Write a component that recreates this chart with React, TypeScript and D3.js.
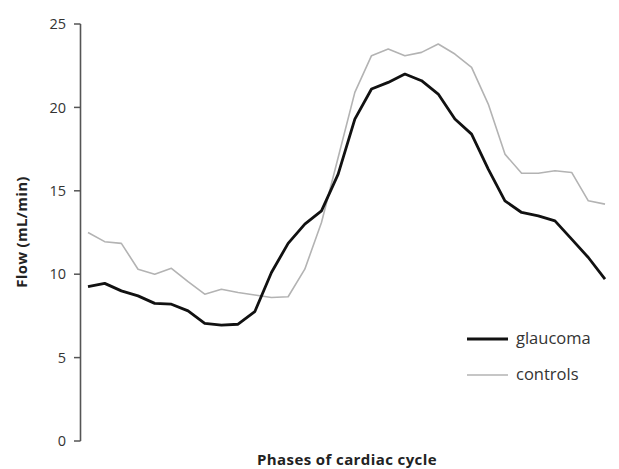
import React from "react";
import * as d3 from "d3";

const yTicks = [0, 5, 10, 15, 20, 25];
const glaucoma = [9.25, 9.45, 9.0, 8.7, 8.25, 8.2, 7.8, 7.05, 6.95, 7.0, 7.75, 10.1, 11.85, 13.0, 13.8, 16.0, 19.3, 21.1, 21.5, 22.0, 21.6, 20.8, 19.3, 18.4, 16.3, 14.4, 13.7, 13.5, 13.2, 12.1, 11.0, 9.7];
const controls = [12.5, 11.95, 11.85, 10.3, 10.0, 10.35, 9.55, 8.8, 9.1, 8.9, 8.75, 8.6, 8.65, 10.3, 13.1, 17.0, 20.9, 23.1, 23.5, 23.1, 23.3, 23.8, 23.2, 22.4, 20.2, 17.2, 16.05, 16.05, 16.2, 16.1, 14.4, 14.2];
const seriesNames = ["glaucoma", "controls"];

export default function App() {
  const W = 619, H = 469;
  const x = d3.scaleLinear().domain([0, glaucoma.length - 1]).range([88, 605]);
  const y = d3.scaleLinear().domain([0, 25]).range([441, 24]);
  const line = d3.line<number>().x((_, i) => x(i)).y((d) => y(d));
  const font = "'Open Sans', 'DejaVu Sans', sans-serif";
  return (
    <svg width={W} height={H} style={{ position: "absolute", left: 0, top: 0, background: "#fff" }} fontFamily={font}>
      <rect width={W} height={H} fill="#fff" />
      <line x1={80.5} x2={80.5} y1={y(25)} y2={y(0)} stroke="#555" strokeWidth={1.6} />
      {yTicks.map((t) => (
        <g key={t}>
          <line x1={74} x2={80.5} y1={y(t)} y2={y(t)} stroke="#555" strokeWidth={1.5} />
          <text x={66} y={y(t)} dy="0.36em" textAnchor="end" fontSize={14.5} fill="#333">{t}</text>
        </g>
      ))}
      <text transform={`translate(27,232) rotate(-90)`} textAnchor="middle" fontSize={15} fontWeight="bold" fill="#222" letterSpacing={0.3}>Flow (mL/min)</text>
      <text x={347} y={465} textAnchor="middle" fontSize={15} fontWeight="bold" fill="#222" letterSpacing={0.4}>Phases of cardiac cycle</text>
      <path d={line(controls) || ""} fill="none" stroke="#b3b3b3" strokeWidth={1.6} strokeLinejoin="round" />
      <path d={line(glaucoma) || ""} fill="none" stroke="#111" strokeWidth={2.8} strokeLinejoin="round" />
      <line x1={467} x2={508} y1={339} y2={339} stroke="#111" strokeWidth={2.8} />
      <text x={516} y={339} dy="0.33em" fontSize={16.5} fill="#333">{seriesNames[0]}</text>
      <line x1={467} x2={508} y1={375} y2={375} stroke="#b3b3b3" strokeWidth={1.6} />
      <text x={516} y={375} dy="0.33em" fontSize={16.5} fill="#333">{seriesNames[1]}</text>
    </svg>
  );
}
